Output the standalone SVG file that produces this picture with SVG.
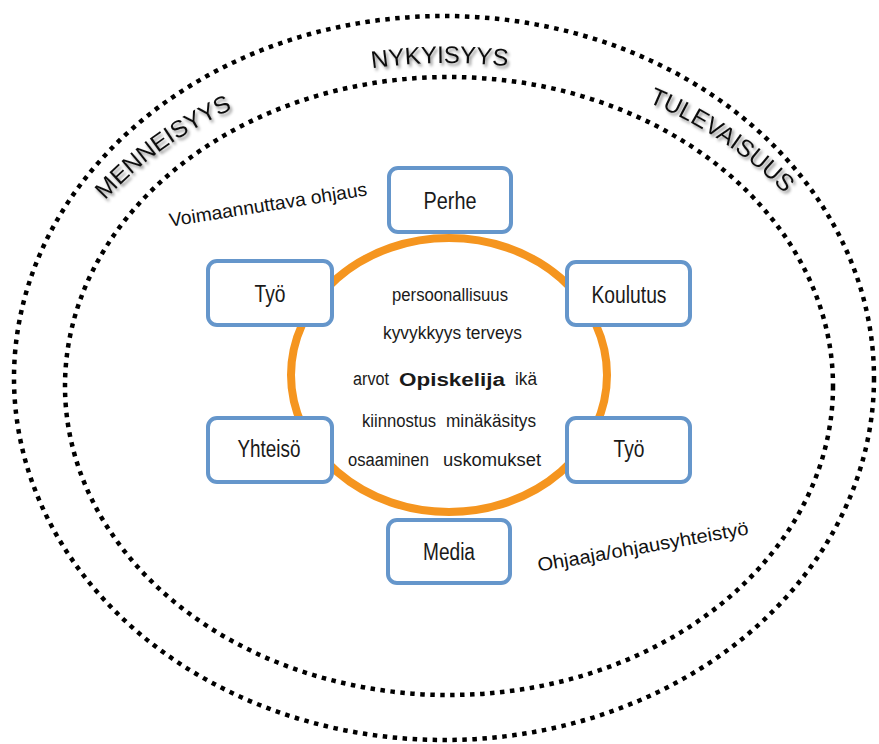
<svg xmlns="http://www.w3.org/2000/svg" width="879" height="744" viewBox="0 0 879 744">
  <defs>
    <filter id="shadow" x="-20%" y="-20%" width="140%" height="160%">
      <feDropShadow dx="2" dy="2.5" stdDeviation="1.5" flood-color="#000" flood-opacity="0.45"/>
    </filter>
    <path id="arcPath" d="M 29,386 A 419,323 0 0 1 867,386" fill="none"/>
  </defs>
  <style>
    .dots { fill: none; stroke: #000; stroke-width: 4.5; stroke-dasharray: 4.5 5.5; }
    .ring { fill: none; stroke: #F5951F; stroke-width: 8; }
    .box { fill: #fff; stroke: #6596CB; stroke-width: 4; }
    .lbl { font-family: "Liberation Sans", Arial, sans-serif; font-size: 23px; fill: #1a1a1a; text-anchor: middle; }
    .ctr { font-family: "Liberation Sans", Arial, sans-serif; font-size: 18px; fill: #1a1a1a; }
    .era { font-family: "Liberation Sans", Arial, sans-serif; font-size: 24px; fill: #111; text-anchor: middle; }
    .note { font-family: "Liberation Sans", Arial, sans-serif; font-size: 19px; fill: #111; text-anchor: middle; }
  </style>
  <rect width="879" height="744" fill="#fff"/>

  <g id="time-rings">
    <ellipse class="dots" cx="444" cy="378" rx="430" ry="362"/>
    <ellipse class="dots" cx="449" cy="386" rx="384" ry="309"/>
    <g filter="url(#shadow)">
      <text class="era"><textPath href="#arcPath" startOffset="24.3%">MENNEISYYS</textPath></text>
      <text class="era"><textPath href="#arcPath" startOffset="49.3%">NYKYISYYS</textPath></text>
      <text class="era"><textPath href="#arcPath" startOffset="74.6%">TULEVAISUUS</textPath></text>
    </g>
  </g>

  <g id="notes">
    <text class="note" x="269" y="211" textLength="200" lengthAdjust="spacingAndGlyphs" transform="rotate(-9 269 211)">Voimaannuttava ohjaus</text>
    <text class="note" x="644" y="553" textLength="214" lengthAdjust="spacingAndGlyphs" transform="rotate(-10 644 553)">Ohjaaja/ohjausyhteistyö</text>
  </g>

  <g id="student">
    <ellipse class="ring" cx="449" cy="375" rx="158" ry="137"/>
    <text class="ctr" x="392" y="301" textLength="116" lengthAdjust="spacingAndGlyphs">persoonallisuus</text>
    <text class="ctr" x="383" y="339" textLength="139" lengthAdjust="spacingAndGlyphs">kyvykkyys terveys</text>
    <text class="ctr" x="353" y="385" textLength="36" lengthAdjust="spacingAndGlyphs">arvot</text>
    <text class="ctr" x="399" y="386" font-size="26" font-weight="bold" textLength="106" lengthAdjust="spacingAndGlyphs">Opiskelija</text>
    <text class="ctr" x="515" y="385" textLength="22" lengthAdjust="spacingAndGlyphs">ikä</text>
    <text class="ctr" x="362" y="427" textLength="74" lengthAdjust="spacingAndGlyphs">kiinnostus</text>
    <text class="ctr" x="446" y="427" textLength="90" lengthAdjust="spacingAndGlyphs">minäkäsitys</text>
    <text class="ctr" x="348" y="466" textLength="81" lengthAdjust="spacingAndGlyphs">osaaminen</text>
    <text class="ctr" x="443" y="466" textLength="98" lengthAdjust="spacingAndGlyphs">uskomukset</text>
  </g>

  <g id="perhe">
    <rect class="box" x="389" y="168" width="122" height="64" rx="9"/>
    <text class="lbl" x="450" y="209" textLength="53" lengthAdjust="spacingAndGlyphs">Perhe</text>
  </g>
  <g id="tyo-left">
    <rect class="box" x="208" y="261" width="124" height="64" rx="9"/>
    <text class="lbl" x="270" y="302" textLength="31" lengthAdjust="spacingAndGlyphs">Työ</text>
  </g>
  <g id="koulutus">
    <rect class="box" x="567" y="262" width="123" height="63" rx="9"/>
    <text class="lbl" x="629" y="303" textLength="75" lengthAdjust="spacingAndGlyphs">Koulutus</text>
  </g>
  <g id="yhteiso">
    <rect class="box" x="208" y="418" width="124" height="64" rx="9"/>
    <text class="lbl" x="269" y="457" textLength="63" lengthAdjust="spacingAndGlyphs">Yhteisö</text>
  </g>
  <g id="tyo-right">
    <rect class="box" x="567" y="418" width="123" height="64" rx="9"/>
    <text class="lbl" x="629" y="457" textLength="31" lengthAdjust="spacingAndGlyphs">Työ</text>
  </g>
  <g id="media">
    <rect class="box" x="388" y="520" width="122" height="63" rx="9"/>
    <text class="lbl" x="449" y="560" textLength="52" lengthAdjust="spacingAndGlyphs">Media</text>
  </g>

  <g id="connectors"></g>
</svg>
